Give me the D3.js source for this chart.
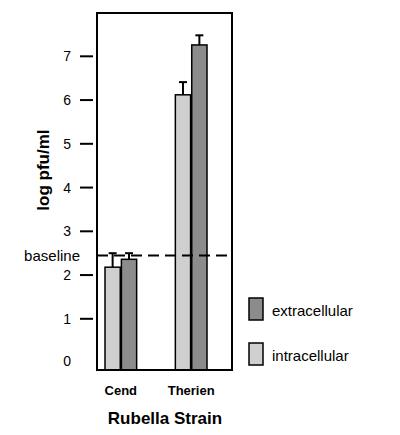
<!DOCTYPE html>
<html><head><meta charset="utf-8">
<script src="https://cdn.jsdelivr.net/npm/d3@7"></script>
<style>body{margin:0;background:#fff}text{font-family:"Liberation Sans",Arial,sans-serif}</style>
</head><body>
<script>
var strains = ['Cend', 'Therien'],
	series = ['intracellular', 'extracellular'],
	means = [[2.18, 2.36], [6.12, 7.26]],
	errs = [[0.32, 0.14], [0.29, 0.22]],
	yTicks = [1, 2, 3, 4, 5, 6, 7],
	baseline = 2.45;

var svg = d3.select('body').append('svg').attr('width', 400).attr('height', 435),
	fills = { intracellular: '#cfcfcf', extracellular: '#8c8c8c' },
	frameL = 97, frameR = 232, frameT = 13, frameB = 370;

var y = d3.scaleLinear().domain([-0.17, 7.99]).range([frameB, frameT]);
var x0 = d3.scaleBand().domain(strains).range([frameL + 8, frameR - 25]).paddingInner(0.55);
var x1 = d3.scaleBand().domain(series).range([0, x0.bandwidth()]).paddingInner(0.07);

var g = svg.append('g');
strains.forEach(function (s, i) {
	series.forEach(function (k, j) {
		var bx = x0(s) + x1(k), w = x1.bandwidth(), v = means[i][j], e = errs[i][j];
		g.append('line').attr('x1', bx + w / 2).attr('x2', bx + w / 2)
			.attr('y1', y(v)).attr('y2', y(v + e)).attr('stroke', '#000').attr('stroke-width', 2);
		g.append('line').attr('x1', bx + w / 2 - 4).attr('x2', bx + w / 2 + 4)
			.attr('y1', y(v + e)).attr('y2', y(v + e)).attr('stroke', '#000').attr('stroke-width', 2);
		g.append('rect').attr('x', bx).attr('width', w).attr('y', y(v)).attr('height', frameB - y(v))
			.attr('fill', fills[k]).attr('stroke', '#000').attr('stroke-width', 1.5);
	});
});

svg.append('rect').attr('x', frameL).attr('y', frameT).attr('width', frameR - frameL).attr('height', frameB - frameT)
	.attr('fill', 'none').attr('stroke', '#000').attr('stroke-width', 2);

yTicks.forEach(function (t) {
	svg.append('line').attr('x1', 80).attr('x2', 93).attr('y1', y(t)).attr('y2', y(t))
		.attr('stroke', '#000').attr('stroke-width', 2);
	svg.append('text').attr('x', 71).attr('y', y(t) + 5).attr('text-anchor', 'end')
		.attr('font-size', 14).text(t);
});
svg.append('text').attr('x', 71).attr('y', 366).attr('text-anchor', 'end').attr('font-size', 14).text('0');

svg.append('line').attr('x1', frameL).attr('x2', frameR).attr('y1', y(baseline)).attr('y2', y(baseline))
	.attr('stroke', '#000').attr('stroke-width', 2).attr('stroke-dasharray', '11,6');
svg.append('text').attr('x', 80).attr('y', y(baseline) + 6).attr('text-anchor', 'end')
	.attr('font-size', 15).text('baseline');

strains.forEach(function (s) {
	svg.append('text').attr('x', x0(s) + x0.bandwidth() / 2).attr('y', 395).attr('text-anchor', 'middle')
		.attr('font-size', 13).attr('font-weight', 'bold').text(s);
});
svg.append('text').attr('x', 165).attr('y', 424).attr('text-anchor', 'middle')
	.attr('font-size', 17).attr('font-weight', 'bold').text('Rubella Strain');
svg.append('text').attr('transform', 'translate(49,' + y(4.4) + ') rotate(-90)').attr('text-anchor', 'middle')
	.attr('font-size', 17).attr('font-weight', 'bold').text('log pfu/ml');

['extracellular', 'intracellular'].forEach(function (k, i) {
	svg.append('rect').attr('x', 249).attr('y', 298 + i * 45).attr('width', 14).attr('height', 22)
		.attr('fill', fills[k]).attr('stroke', '#000').attr('stroke-width', 1.5);
	svg.append('text').attr('x', 272).attr('y', 316 + i * 45).attr('font-size', 15).text(k);
});
</script>
</body></html>
